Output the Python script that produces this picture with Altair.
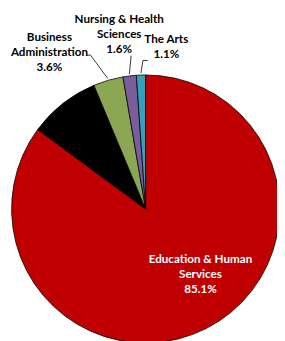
import math
import altair as alt
import pandas as pd

categories = ["Education & Human Services", "Other", "Business Administration",
              "Nursing & Health Sciences", "The Arts"]
shares = [85.1, 8.6, 3.6, 1.6, 1.1]
wrapped = ["Education & Human\nServices", "", "Business\nAdministration",
           "Nursing & Health\nSciences", "The Arts"]
colors = ["#C00000", "#000000", "#8BA753", "#7B5C9C", "#35A0BA"]

W, H = 277, 333
CX, CY, R = 141.7, 202.0, 138
LH = 15.5

df = pd.DataFrame({"cat": categories, "share": shares, "name": wrapped})
df["label"] = [f"{n}\n{s:.1f}%" if n else "" for n, s in zip(wrapped, shares)]
cum = df["share"].cumsum()
df["start"] = cum - df["share"]
df["end"] = cum
df["mid"] = (df["start"] + df["end"]) / 2

# label layout: (radius, dx, dy, color)
label_layout = {
    "Education & Human Services": (72, 24, -LH + 3, "white"),
    "Business Administration": (165, -53, -LH - 3, "black"),
    "Nursing & Health Sciences": (178, -6, -LH - 3, "black"),
    "The Arts": (164, 27, -LH / 2 - 3, "black"),
}
# leader lines: (r_start, r_end, end_dx, tail_dx)
leader_layout = {
    "Business Administration": (140, 165, -10.7, -4),
    "Nursing & Health Sciences": (140, 159, 4, 0),
    "The Arts": (140, 153, 2.6, 5),
}

rows = []
for _, r in df.iterrows():
    if r["cat"] in leader_layout:
        r1, r2, edx, tdx = leader_layout[r["cat"]]
        a = r["mid"] / 100 * 2 * math.pi
        x1, y1 = CX + r1 * math.sin(a), CY - r1 * math.cos(a)
        x2, y2 = CX + r2 * math.sin(a) + edx, CY - r2 * math.cos(a)
        rows.append({"cat": r["cat"], "x": x1, "y": y1, "x2": x2, "y2": y2})
        if tdx:
            rows.append({"cat": r["cat"], "x": x2, "y": y2, "x2": x2 + tdx, "y2": y2})
leaders = pd.DataFrame(rows)

theta_scale = alt.Scale(domain=[0, 100])

arcs = alt.Chart(df).mark_arc(radius=R, stroke="black", strokeWidth=0.8).encode(
    theta=alt.Theta("start:Q", scale=theta_scale, stack=False),
    theta2="end:Q",
    color=alt.Color("cat:N", scale=alt.Scale(domain=categories, range=colors), legend=None),
    x=alt.value(CX), y=alt.value(CY),
)

layers = [arcs]
for cat, (rad, dx, dy, col) in label_layout.items():
    layers.append(
        alt.Chart(df).transform_filter(alt.datum.cat == cat).mark_text(
            radius=rad, dx=dx, dy=dy, lineBreak="\n", font="Lato", fontSize=12,
            fontWeight="bold", color=col, align="center", baseline="middle", lineHeight=LH,
        ).encode(
            theta=alt.Theta("mid:Q", scale=theta_scale, stack=False),
            text="label:N",
            x=alt.value(CX), y=alt.value(CY),
        )
    )

lead = alt.Chart(leaders).mark_rule(color="black", strokeWidth=0.8).encode(
    x=alt.X("x:Q", scale=None), y=alt.Y("y:Q", scale=None),
    x2="x2:Q", y2="y2:Q",
)
layers.append(lead)

chart = alt.layer(*layers).properties(
    width=W, height=H, padding=0, autosize=alt.AutoSizeParams(type="none")
).configure_view(stroke=None)

chart.save("out.html", embed_options={"renderer": "svg", "actions": False})
